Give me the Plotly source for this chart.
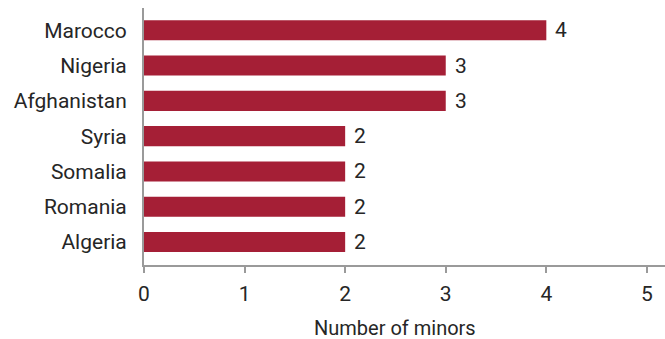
import plotly.graph_objects as go

countries = ["Marocco", "Nigeria", "Afghanistan", "Syria", "Somalia", "Romania", "Algeria"]
minors = [4, 3, 3, 2, 2, 2, 2]
x_ticks = [0, 1, 2, 3, 4, 5]
x_title = "Number of minors"

bar_color = "#A51F36"
text_color = "#262626"
axis_color = "#9a9a9a"
font_family = "Roboto, 'DejaVu Sans', sans-serif"
fs = 21

fig = go.Figure()
fig.add_trace(go.Bar(
    x=minors,
    y=countries,
    orientation="h",
    marker=dict(color=bar_color, line=dict(width=0)),
    width=0.57,
    hoverinfo="skip",
))

# value labels to the right of each bar
for c, v in zip(countries, minors):
    fig.add_annotation(
        x=v, y=c, text=str(v), showarrow=False,
        xanchor="left", xshift=7,
        font=dict(size=fs, color=text_color, family=font_family),
    )

# axis title centred under the tick range
fig.add_annotation(
    x=(x_ticks[0] + x_ticks[-1]) / 2, y=0, xref="x", yref="paper",
    yanchor="top", yshift=-49, text=x_title, showarrow=False,
    font=dict(size=20, color=text_color, family=font_family),
)

fig.update_layout(
    width=665, height=339,
    margin=dict(l=144, r=0, t=8, b=74),
    paper_bgcolor="white", plot_bgcolor="white",
    showlegend=False,
    font=dict(family=font_family, size=fs, color=text_color),
    xaxis=dict(
        range=[0, 5.18],
        tickvals=x_ticks,
        ticks="outside", ticklen=6, tickwidth=2, tickcolor=axis_color,
        showline=True, linecolor=axis_color, linewidth=2,
        showgrid=False, zeroline=False,
        tickfont=dict(size=fs, color=text_color),
        ticklabelstandoff=3,
        fixedrange=True,
    ),
    yaxis=dict(
        categoryorder="array", categoryarray=countries,
        range=[len(countries) - 1 + 0.65, -0.63],
        showline=True, linecolor=axis_color, linewidth=2,
        showgrid=False, zeroline=False,
        ticks="", ticklabelstandoff=11,
        tickfont=dict(size=fs, color=text_color),
        fixedrange=True,
    ),
)

fig.write_html("out.html")
